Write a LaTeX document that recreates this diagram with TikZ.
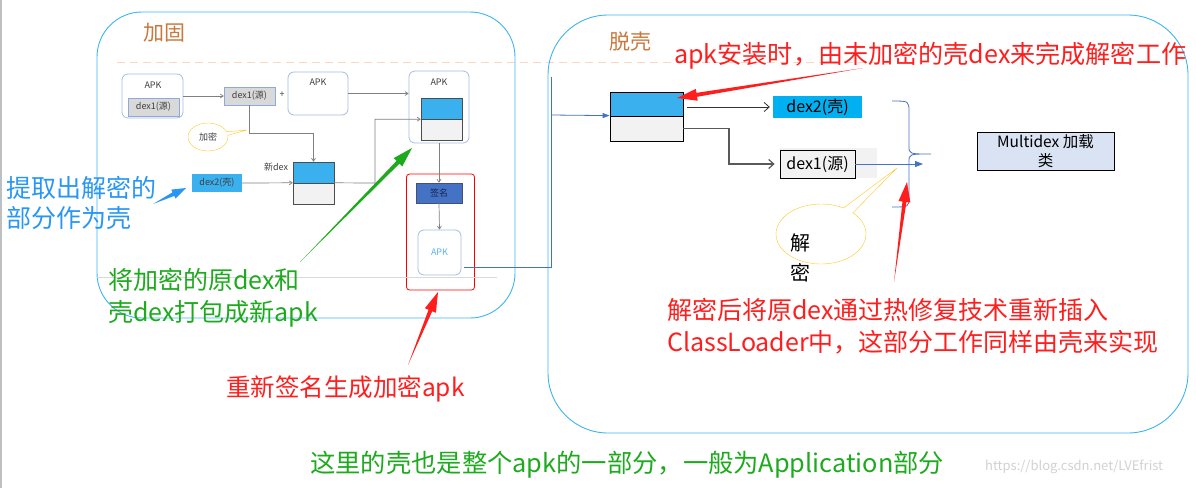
\documentclass[tikz,border=0pt]{standalone}
\usepackage{fontspec}
\setmainfont{Noto Sans CJK SC}
\usetikzlibrary{arrows.meta,positioning,shapes.callouts,calc}

\definecolor{framecol}{RGB}{60,180,240}
\definecolor{shellblue}{RGB}{59,176,238}
\definecolor{lightfill}{RGB}{242,242,242}
\definecolor{srcgrey}{RGB}{217,217,217}
\definecolor{apkedge}{RGB}{165,188,228}
\definecolor{srcedge}{RGB}{142,169,219}
\definecolor{signblue}{RGB}{68,114,196}
\definecolor{signtext}{RGB}{25,35,80}
\definecolor{cyanfill}{RGB}{0,176,240}
\definecolor{loadfill}{RGB}{218,227,243}
\definecolor{notered}{RGB}{255,30,30}
\definecolor{notegreen}{RGB}{30,170,30}
\definecolor{noteblue}{RGB}{40,150,245}
\definecolor{titleorange}{RGB}{200,120,60}
\definecolor{linkgrey}{RGB}{128,128,128}
\definecolor{linkblue}{RGB}{68,114,196}
\definecolor{bubbleyellow}{RGB}{255,200,40}
\definecolor{guide}{RGB}{248,215,195}

\tikzset{
  panel/.style={draw=framecol, line width=0.9pt, inner sep=0},
  apkbox/.style={draw=apkedge, fill=white, rounded corners=6, line width=0.8pt, inner sep=0},
  smalltext/.style={font=\fontsize{9}{10}\selectfont, text=black!75, inner sep=0},
  midtext/.style={font=\fontsize{16}{18}\selectfont, text=black, inner sep=0},
  flow/.style={draw=linkgrey, line width=0.7pt, -{Straight Barb[length=3,width=4]}},
  note/.style={align=left, inner sep=0, anchor=west},
}

% tapered pointer: colour, tail, head, head length, head half width
\newcommand{\taperarrow}[5]{%
  \path (#3) coordinate (th) ($(#3)!#4pt!(#2)$) coordinate (tb);
  \fill[#1] (#2) -- ($(tb)!2pt!90:(th)$) -- ($(tb)!#5pt!90:(th)$) -- (th)
    -- ($(tb)!#5pt!-90:(th)$) -- ($(tb)!2pt!-90:(th)$) -- cycle;
}

\begin{document}
\begin{tikzpicture}[x=1pt,y=-1pt]
	\useasboundingbox (0,0) rectangle (1196,488);
	\draw[black!25, line width=2] (1,0) -- (1,488);
	\draw[guide, dashed, dash pattern=on 8 off 5] (117,62) -- (880,62);

	% panels
	\node[panel, rounded corners=45, minimum width=418, minimum height=306] (hardenpanel) at (306,165) {};
	\node[panel, rounded corners=60, minimum width=640, minimum height=418] (unpackpanel) at (868,224) {};
	\node[inner sep=0, text=titleorange, font=\fontsize{21}{24}\selectfont] (hardentitle) at (164,33) {加固};
	\node[inner sep=0, text=titleorange, font=\fontsize{21}{24}\selectfont] (unpacktitle) at (630,42) {脱壳};

	% harden side
	\node[apkbox, minimum width=61, minimum height=44] (apk1) at (152.5,96) {};
	\node[smalltext] (apk1lbl) at (153,85) {APK};
	\node[draw=srcedge, fill=srcgrey, minimum width=51, minimum height=18, smalltext] (src1) at (153.5,107) {dex1(源)};
	\node[draw=srcedge, fill=srcgrey, minimum width=51, minimum height=18, smalltext] (src2) at (249.5,96) {dex1(源)};
	\node[smalltext] (plus) at (282,95) {+};
	\node[apkbox, minimum width=60, minimum height=43] (apk2) at (318,93.5) {};
	\node[smalltext] (apk2lbl) at (318,82) {APK};
	\node[apkbox, minimum width=60, minimum height=72] (apk3) at (439,107) {};
	\node[smalltext] (apk3lbl) at (439,82) {APK};
	\node[draw=black!70, fill=shellblue, minimum width=41, minimum height=21, inner sep=0] (ptop) at (441.5,108.5) {};
	\node[draw=black!70, fill=lightfill, minimum width=41, minimum height=21, inner sep=0] (pbot) at (441.5,129.5) {};

	\node[ellipse callout, draw=bubbleyellow, fill=white, minimum width=40, minimum height=28, inner sep=0,
		callout absolute pointer={(247,130)}] (encbubble) at (208,137) {};
	\node[smalltext] (enclbl) at (208,137) {加密};

	\node[smalltext] (newlbl) at (276,167) {新dex};
	\node[draw=black!70, fill=shellblue, minimum width=41, minimum height=21, inner sep=0] (ntop) at (313.5,172.5) {};
	\node[draw=black!70, fill=lightfill, minimum width=41, minimum height=21, inner sep=0] (nbot) at (313.5,193.5) {};
	\node[fill=shellblue, minimum width=50, minimum height=18, smalltext] (shell2) at (217,183) {dex2(壳)};

	\node[draw=red, rounded corners=3, line width=0.8pt, minimum width=68, minimum height=116, inner sep=0] (signframe) at (440.5,232) {};
	\node[draw=signtext!80, fill=signblue, minimum width=46, minimum height=20, smalltext, text=signtext] (sign) at (439,193) {签名};
	\node[apkbox, minimum width=43, minimum height=45, smalltext, text={rgb,255:red,90;green,180;blue,240}] (apk4) at (439.5,252.5) {APK};
	\draw[black!15] (97,277) -- (497,277);

	\coordinate (encbend) at (313.5,133);
	\coordinate (packbend) at (375,183);
	\draw[flow] (apk1.east) -- (src2.west);
	\draw[flow] (apk2.east) -- (apk3.west |- apk2.east);
	\draw[flow] (src2.south) |- (encbend) -- (ntop.north);
	\draw[flow] (shell2.east) -- (nbot.north west);
	\draw[flow] (nbot.north east) -- (packbend) |- (ptop.south west);
	\draw[flow] (apk3.south) -- (sign.north);
	\draw[flow] (sign.south) -- (apk4.north);

	% link to the unpack side
	\coordinate (exitstart) at (464,267);
	\coordinate (risertop) at (551,77);
	\coordinate (riserjoin) at (551,115);
	\draw[linkblue, line width=0.8pt] (exitstart) -| (risertop);

	% unpack side
	\node[draw=black, line width=0.8pt, fill=shellblue, minimum width=73, minimum height=24, inner sep=0] (stop) at (646.5,104) {};
	\node[draw=black, line width=0.8pt, fill=lightfill, minimum width=73, minimum height=25, inner sep=0] (sbot) at (646.5,128.5) {};
	\draw[linkblue, line width=0.8pt, -{Triangle[length=7,width=5]}] (riserjoin) -- (sbot.north west);

	\node[fill=cyanfill, minimum width=89, minimum height=22, midtext] (shellright) at (817.5,107) {dex2(壳)};
	\node[fill=lightfill, minimum width=97, minimum height=30, inner sep=0] (srcbg) at (828.5,163) {};
	\node[draw=black, line width=0.8pt, fill=lightfill, minimum width=75, minimum height=28, midtext] (srcright) at (817.5,164) {dex1(源)};
	\node[draw=black, line width=0.8pt, fill=loadfill, minimum width=137, minimum height=38, align=center,
		font=\fontsize{15.5}{19}\selectfont, inner sep=0] (loader) at (1045.5,151) {Multidex 加载\\类};

	\coordinate (srcbend) at (729,128.5);
	\coordinate (mergept) at (923,164);
	\draw[black!80, line width=0.8pt, shorten <=4, shorten >=3, -{Straight Barb[length=5,width=9]}] (stop.east |- shellright.west) -- (shellright.west);
	\draw[black!65, line width=1.2pt, shorten >=5, -{Straight Barb[length=5,width=9]}] (sbot.east) -- (srcbend) |- (srcright.west);
	\draw[linkblue, line width=0.8pt, -{Triangle[length=8,width=6]}] (srcright.east) -- (mergept);
	\draw[linkblue, line width=0.8pt] (892,101) .. controls (909,101) .. (909,112) -- (909,146)
		.. controls (909,154) .. (931,154) .. controls (909,154) .. (909,162) -- (909,197)
		.. controls (909,207) .. (892,207);

	\node[ellipse callout, draw=bubbleyellow, fill=white, minimum width=90, minimum height=60, inner sep=0,
		callout absolute pointer={(897,168)}] (decbubble) at (821,234) {};
	\node[align=center, inner sep=0, font=\fontsize{20}{30}\selectfont] (declbl) at (800,258) {解\\密};

	% notes
	\node[note, text=noteblue, font=\fontsize{25}{30}\selectfont] (shellnote) at (6,203) {提取出解密的\\部分作为壳};
	\node[note, text=notegreen, font=\fontsize{25}{32}\selectfont] (packnote) at (108,298) {将加密的原dex和\\壳dex打包成新apk};
	\node[note, text=notered, font=\fontsize{24.5}{28}\selectfont] (signnote) at (226,389) {重新签名生成加密apk};
	\node[note, text=notegreen, font=\fontsize{25.3}{28}\selectfont] (partnote) at (310,465) {这里的壳也是整个apk的一部分，一般为Application部分};
	\node[note, text=notered, font=\fontsize{25.1}{30}\selectfont] (installnote) at (674,56) {apk安装时，由未加密的壳dex来完成解密工作};
	\node[note, text=notered, font=\fontsize{25}{32}\selectfont] (reinsertnote) at (667,326) {解密后将原dex通过热修复技术重新插入\\ClassLoader中，这部分工作同样由壳来实现};
	\node[note, text=black!18, font=\fontsize{13}{15}\selectfont] (mark) at (985,467) {https://blog.csdn.net/LVEfrist};

	% pointer arrows
	\coordinate (installtail) at (863,68);
	\coordinate (installhead) at (677,98);
	\coordinate (reinserttail) at (894,282);
	\coordinate (reinserthead) at (907,182);
	\coordinate (signtail) at (408,365);
	\coordinate (signhead) at (438,292);
	\coordinate (packtail) at (300,262);
	\coordinate (packhead) at (412,148);
	\coordinate (shelltail) at (153,204);
	\coordinate (shellhead) at (186,188);
	\taperarrow{notered}{installtail}{installhead}{20}{6}
	\taperarrow{notered}{reinserttail}{reinserthead}{20}{6}
	\taperarrow{notered}{signtail}{signhead}{20}{6}
	\taperarrow{notegreen}{packtail}{packhead}{20}{6}
	\taperarrow{noteblue}{shelltail}{shellhead}{14}{5}
\end{tikzpicture}
\end{document}
